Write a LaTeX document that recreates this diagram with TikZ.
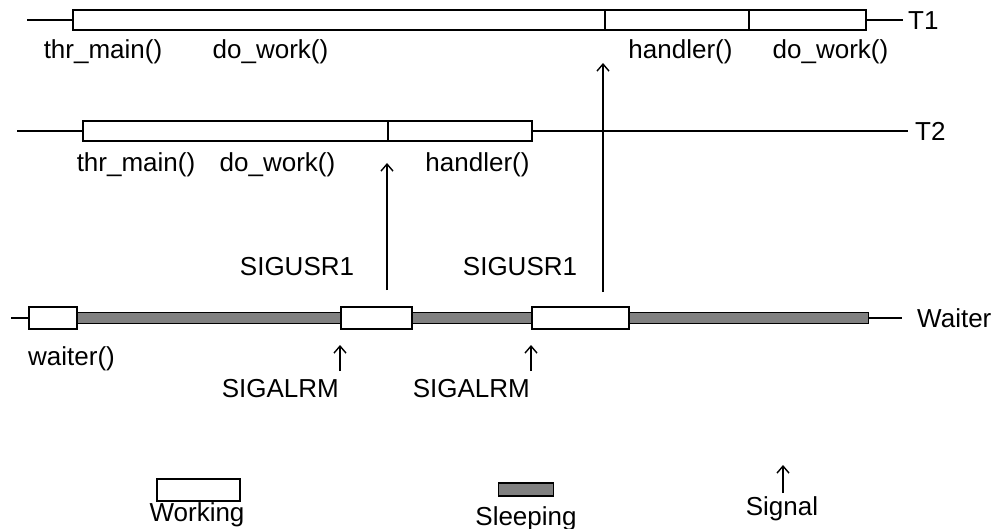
\documentclass[tikz,border=0pt]{standalone}
\usepackage{fontspec}
\setmainfont{Liberation Sans}
\usetikzlibrary{arrows.meta}
\begin{document}
\begin{tikzpicture}[x=1pt,y=-1pt,
  work/.style={draw=black,fill=white,line width=1.5pt,inner sep=0pt,minimum height=20pt,anchor=west},
  workw/.style={work,minimum height=22pt},
  sleep/.style={draw=black,fill=sleepgray,line width=1.3pt,inner sep=0pt,minimum height=11pt,anchor=west},
  axis/.style={line width=2.2pt},
  sig/.style={line width=1.5pt,-{Straight Barb[length=7pt,width=12pt,line width=1.4pt]}},
  lbl/.style={font=\fontsize{26}{31}\selectfont,inner sep=0pt,anchor=base},
  tag/.style={lbl,anchor=base west}
]
\definecolor{sleepgray}{HTML}{808080}
\useasboundingbox (0,0) rectangle (995,529);

% ---------- T1 ----------
\node[work,minimum width=532pt] (t1a) at (72,20) {};
\node[work,minimum width=144pt] (t1b) at (604,20) {};
\node[work,minimum width=117pt] (t1c) at (748,20) {};
\coordinate (t1s) at (27,20);
\coordinate (t1e) at (903,20);
\draw[axis] (t1s) -- (t1a.west);
\draw[axis] (t1c.east) -- (t1e);
\node[tag] (t1tag) at (908,29.3) {T1};
\node[lbl] (t1l1) at (103,59) {thr\_main()};
\node[lbl] (t1l2) at (270.5,59) {do\_work()};
\node[lbl] (t1l3) at (680.5,59) {handler()};
\node[lbl] (t1l4) at (830.5,59) {do\_work()};

% ---------- T2 ----------
\node[work,minimum width=305pt] (t2a) at (82,131) {};
\node[work,minimum width=144pt] (t2b) at (387,131) {};
\coordinate (t2s) at (17,131);
\coordinate (t2e) at (908,131);
\draw[axis] (t2s) -- (t2a.west);
\draw[axis] (t2b.east) -- (t2e);
\node[tag] (t2tag) at (915,140.3) {T2};
\node[lbl] (t2l1) at (136,172) {thr\_main()};
\node[lbl] (t2l2) at (277.5,172) {do\_work()};
\node[lbl] (t2l3) at (477.5,172) {handler()};

% ---------- Waiter ----------
\node[sleep,minimum width=264pt] (g1) at (76,318) {};
\node[sleep,minimum width=120pt] (g2) at (411,318) {};
\node[sleep,minimum width=240pt] (g3) at (628,318) {};
\node[workw,minimum width=48pt] (w1) at (28,318) {};
\node[workw,minimum width=71pt] (w2) at (340,318) {};
\node[workw,minimum width=97pt] (w3) at (531,318) {};
\coordinate (ws) at (11,318);
\coordinate (we) at (902,318);
\draw[axis] (ws) -- (w1.west);
\draw[axis] (g3.east) -- (we);
\node[tag] (wtag) at (917,327.3) {Waiter};
\node[lbl] (wl1) at (71.5,365) {waiter()};

% ---------- SIGUSR1 ----------
\coordinate (u1s) at (387,290);
\coordinate (u1e) at (387,163);
\draw[sig] (u1s) -- (u1e);
\node[lbl] (u1l) at (297,275) {SIGUSR1};
\coordinate (u2s) at (603,292);
\coordinate (u2e) at (603,63);
\draw[sig] (u2s) -- (u2e);
\node[lbl] (u2l) at (520,275) {SIGUSR1};

% ---------- SIGALRM ----------
\coordinate (a1s) at (340,371);
\coordinate (a1e) at (340,345);
\draw[sig] (a1s) -- (a1e);
\node[lbl,anchor=base east] (a1l) at (339,397) {SIGALRM};
\coordinate (a2s) at (531,371);
\coordinate (a2e) at (531,345);
\draw[sig] (a2s) -- (a2e);
\node[lbl,anchor=base east] (a2l) at (530,397) {SIGALRM};

% ---------- Legend ----------
\node[workw,minimum width=83pt] (lw) at (156,490) {};
\node[lbl] (lwl) at (197,521) {Working};
\node[sleep,minimum width=55pt,minimum height=13pt] (ls) at (498,489.5) {};
\node[lbl] (lsl) at (526,525) {Sleeping};
\coordinate (lgs) at (783,493);
\coordinate (lge) at (783,465);
\draw[sig] (lgs) -- (lge);
\node[lbl] (lgl) at (782,515) {Signal};
\end{tikzpicture}
\end{document}
